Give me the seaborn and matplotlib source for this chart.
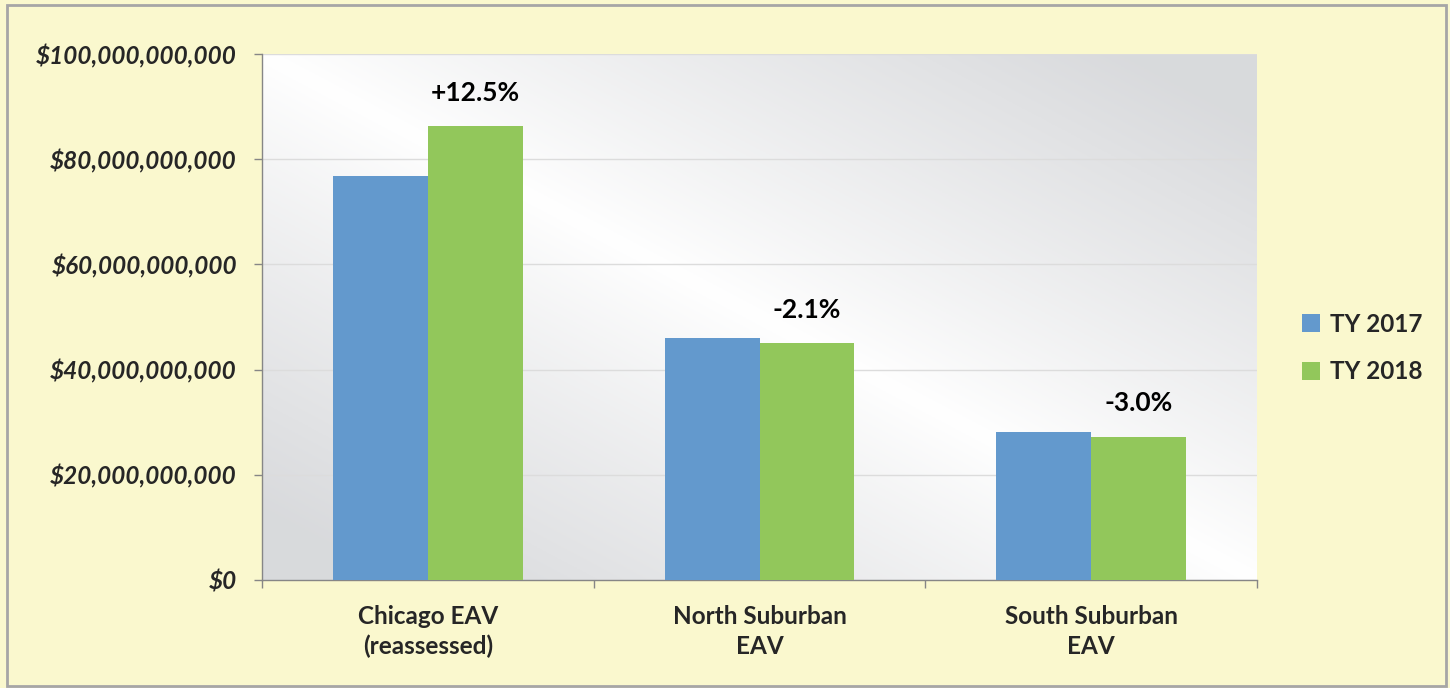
import numpy as np
import pandas as pd
import matplotlib
matplotlib.use("Agg")
import matplotlib.pyplot as plt
from matplotlib.patches import Rectangle, Patch
import seaborn as sns

categories = ["Chicago EAV\n(reassessed)", "North Suburban\nEAV", "South Suburban\nEAV"]
series = ["TY 2017", "TY 2018"]
ty2017 = [76.8e9, 46.0e9, 28.1e9]
ty2018 = [86.3e9, 45.05e9, 27.25e9]
changes = ["+12.5%", "-2.1%", "-3.0%"]
yticks = [0, 20e9, 40e9, 60e9, 80e9, 100e9]
ytick_labels = ["$0", "$20,000,000,000", "$40,000,000,000", "$60,000,000,000",
                "$80,000,000,000", "$100,000,000,000"]

colors = {"TY 2017": "#6399CD", "TY 2018": "#92C75B"}
bg = "#FAF8CE"

df = pd.DataFrame({
    "category": categories * 2,
    "series": [series[0]] * 3 + [series[1]] * 3,
    "value": ty2017 + ty2018,
})

sns.set_theme(style="white")
plt.rcParams["font.family"] = ["Lato", "DejaVu Sans"]

W, H = 1450, 688
fig = plt.figure(figsize=(W / 100, H / 100), dpi=100, facecolor=bg)
ax = fig.add_axes([262 / W, 1 - 580 / H, (1257 - 262) / W, (580 - 54) / H])
ax.set_facecolor("white")

# gradient plot-area background (row 0 = top)
nx, ny = 300, 200
u = np.linspace(0, 1, nx)[None, :]
v = np.linspace(0, 1, ny)[:, None]
t = np.clip(np.abs(u - v) * 1.15, 0, 1)
t = t ** 0.9
light = np.array([1.0, 1.0, 1.0])
dark = np.array([0.85, 0.855, 0.865])
img = light[None, None, :] * (1 - t[..., None]) + dark[None, None, :] * t[..., None]
ax.imshow(img, extent=[0, 1, 0, 1], origin="upper", transform=ax.transAxes,
          aspect="auto", zorder=-2)

sns.barplot(data=df, x="category", y="value", hue="series", palette=colors,
            saturation=1, width=0.572, gap=0, ax=ax, legend=False,
            edgecolor="none", zorder=3)

ax.set_ylim(0, 100e9)
ax.set_xlim(-0.5, 2.5)
ax.set_yticks(yticks)
ax.set_yticklabels(ytick_labels, fontsize=17.5, fontweight="bold", fontstyle="italic")
ax.yaxis.grid(True, color="#DCDCDC", lw=1, zorder=0)
ax.set_axisbelow(True)
ax.tick_params(axis="y", which="major", length=6, width=1, color="#868686",
               direction="out", left=True, pad=12)

ax.set_xticks(range(3))
ax.set_xticklabels(categories, fontsize=17.5, fontweight="bold", linespacing=1.35)
ax.tick_params(axis="x", which="major", length=0, pad=18)
ax.set_xticks([-0.5, 0.5, 1.5, 2.5], minor=True)
ax.tick_params(axis="x", which="minor", length=6, width=1, color="#868686",
               direction="out", bottom=True)
ax.set_xlabel("")
ax.set_ylabel("")

for side in ["top", "right"]:
    ax.spines[side].set_visible(False)
for side in ["left", "bottom"]:
    ax.spines[side].set_color("#868686")
    ax.spines[side].set_linewidth(1)

# percent change labels above TY 2018 bars
green_bars = [p for p in ax.patches if p.get_height() in ty2018]
for bar, txt in zip(sorted(green_bars, key=lambda p: p.get_x()), changes):
    ax.annotate(txt, (bar.get_x() + bar.get_width() / 2, bar.get_height()),
                xytext=(0, 24), textcoords="offset points", ha="center", va="center",
                fontsize=19, fontweight="bold", color="black")

handles = [Patch(facecolor=colors[s], edgecolor="none") for s in series]
fig.legend(handles, series, loc="center left", bbox_to_anchor=(1280 / W, 1 - 348 / H),
           frameon=False, prop={"weight": "bold", "size": 17.5},
           handlelength=0.75, handleheight=0.75, handletextpad=0.4, labelspacing=1.0)

fig.patches.append(Rectangle((7 / W, 1 - 686 / H), (1446 - 7) / W, (686 - 5) / H,
                             transform=fig.transFigure, fill=False,
                             edgecolor="#A6A6A6", lw=2))

fig.savefig("out.png", dpi=100, facecolor=bg)
